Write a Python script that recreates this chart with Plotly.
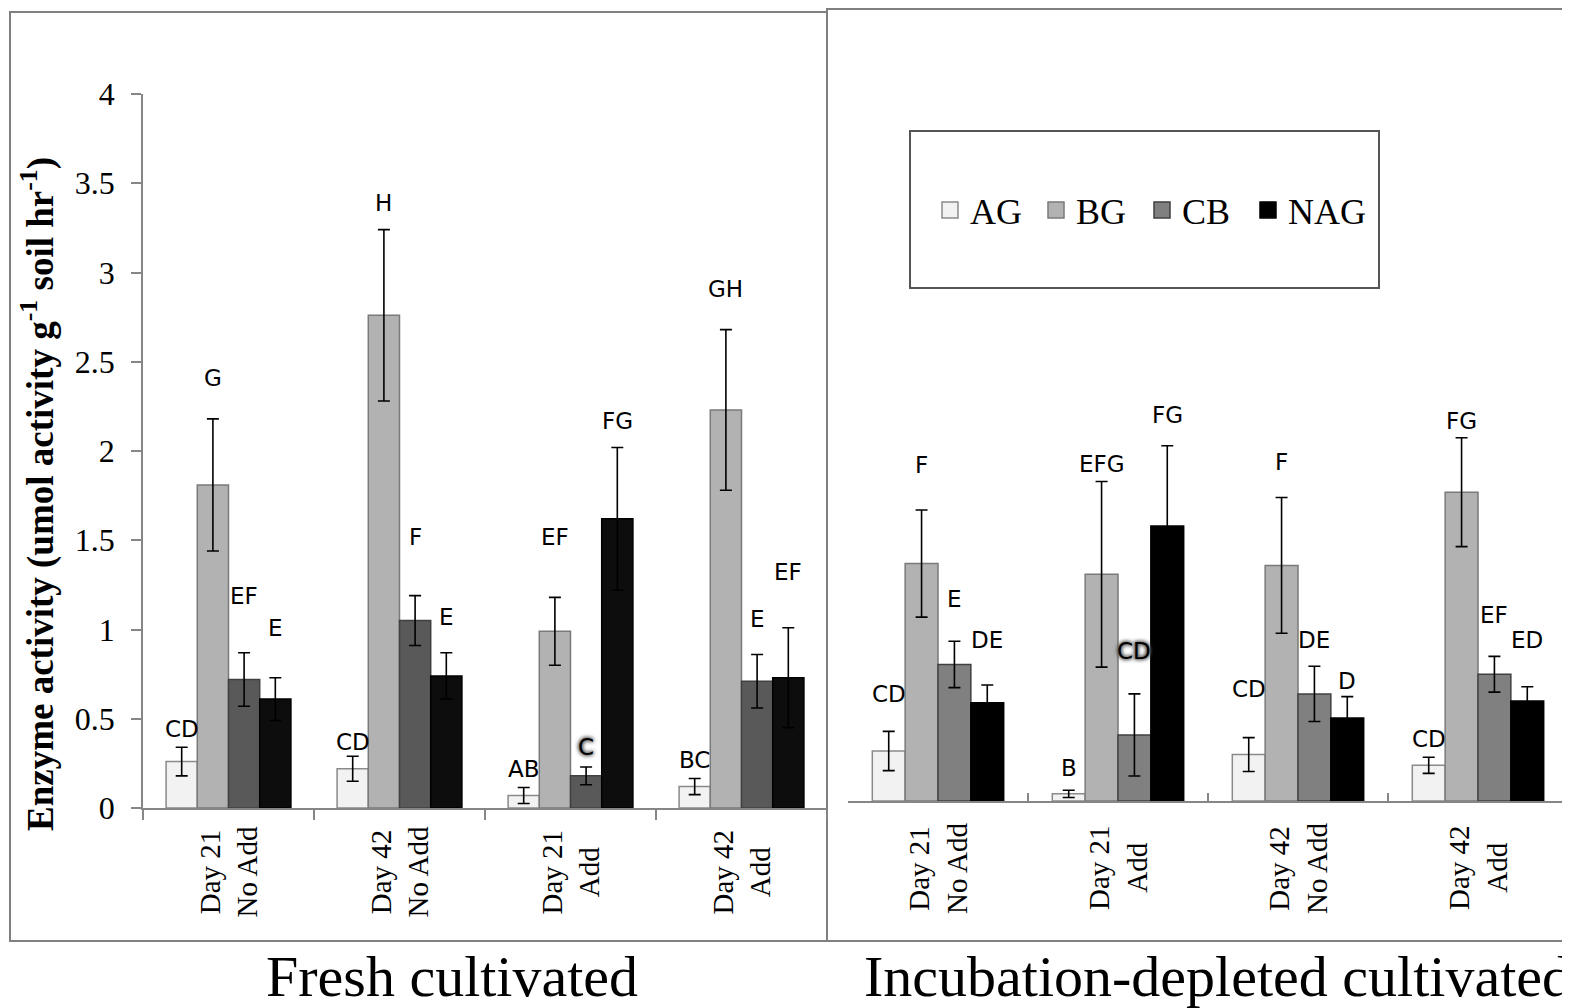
import plotly.graph_objects as go

# page is shown with the default 8px body margin, so the figure is sized to fit
OFF = 8
W, H = 1562, 1000

enzymes = ["AG", "BG", "CB", "NAG"]

# Fresh cultivated (left panel)
fresh_day = ["Day 21", "Day 42", "Day 21", "Day 42"]
fresh_trt = ["No Add", "No Add", "Add", "Add"]
fresh_vals = {
    "AG": [0.26, 0.22, 0.07, 0.12],
    "BG": [1.81, 2.76, 0.99, 2.23],
    "CB": [0.72, 1.05, 0.18, 0.71],
    "NAG": [0.61, 0.74, 1.62, 0.73],
}
fresh_err = {
    "AG": [0.08, 0.07, 0.045, 0.045],
    "BG": [0.37, 0.48, 0.19, 0.45],
    "CB": [0.15, 0.14, 0.05, 0.15],
    "NAG": [0.12, 0.13, 0.40, 0.28],
}
fresh_letters = {
    "AG": ["CD", "CD", "AB", "BC"],
    "BG": ["G", "H", "EF", "GH"],
    "CB": ["EF", "F", "C", "E"],
    "NAG": ["E", "E", "FG", "EF"],
}
fresh_letter_y = {
    "AG": [0.44, 0.37, 0.22, 0.27],
    "BG": [2.41, 3.39, 1.52, 2.91],
    "CB": [1.19, 1.52, 0.34, 1.06],
    "NAG": [1.01, 1.07, 2.17, 1.32],
}

# Incubation-depleted cultivated (right panel)
dep_day = ["Day 21", "Day 21", "Day 42", "Day 42"]
dep_trt = ["No Add", "Add", "No Add", "Add"]
dep_vals = {
    "AG": [0.28, 0.04, 0.26, 0.20],
    "BG": [1.33, 1.27, 1.32, 1.73],
    "CB": [0.765, 0.37, 0.60, 0.71],
    "NAG": [0.55, 1.54, 0.465, 0.56],
}
dep_err = {
    "AG": [0.11, 0.02, 0.095, 0.045],
    "BG": [0.30, 0.52, 0.38, 0.305],
    "CB": [0.13, 0.23, 0.155, 0.10],
    "NAG": [0.10, 0.45, 0.12, 0.08],
}
dep_letters = {
    "AG": ["CD", "B", "CD", "CD"],
    "BG": ["F", "EFG", "F", "FG"],
    "CB": ["E", "CD", "DE", "EF"],
    "NAG": ["DE", "FG", "D", "ED"],
}
dep_letter_y = {
    "AG": [0.60, 0.185, 0.63, 0.35],
    "BG": [1.88, 1.89, 1.90, 2.13],
    "CB": [1.13, 0.84, 0.90, 1.04],
    "NAG": [0.90, 2.16, 0.67, 0.90],
}
glow = [("fresh", "CB", 2), ("dep", "CB", 1)]

y_ticks = [0, 0.5, 1, 1.5, 2, 2.5, 3, 3.5, 4]

fresh_colors = {"AG": "#f2f2f2", "BG": "#b2b2b2", "CB": "#595959", "NAG": "#0d0d0d"}
dep_colors = {"AG": "#f2f2f2", "BG": "#b2b2b2", "CB": "#808080", "NAG": "#000000"}
line_colors = {"AG": "#8a8a8a", "BG": "#7a7a7a", "CB": "#404040", "NAG": "#000000"}

SERIF = "Liberation Serif"
SANS = "DejaVu Sans"

fresh_x = [f"{d} {t}" for d, t in zip(fresh_day, fresh_trt)]
dep_x = [f"{d} {t}" for d, t in zip(dep_day, dep_trt)]

fig = go.Figure()
for e in enzymes:
    fig.add_trace(go.Bar(
        x=fresh_x, y=fresh_vals[e], name=e, showlegend=False,
        marker=dict(color=fresh_colors[e], line=dict(color=line_colors[e], width=1.5)),
        error_y=dict(type="data", array=fresh_err[e], color="black", thickness=1.6, width=6),
        xaxis="x", yaxis="y",
    ))
for e in enzymes:
    fig.add_trace(go.Bar(
        x=dep_x, y=dep_vals[e], name=e, showlegend=False,
        marker=dict(color=dep_colors[e], line=dict(color=line_colors[e], width=1.5)),
        error_y=dict(type="data", array=dep_err[e], color="black", thickness=1.6, width=6),
        xaxis="x2", yaxis="y2",
    ))
# legend keys (square swatches like the original)
for e in enzymes:
    fig.add_trace(go.Scatter(
        x=[None], y=[None], mode="markers", name=e, showlegend=True,
        marker=dict(symbol="square", size=20, color=dep_colors[e],
                    line=dict(color=line_colors[e], width=1.5)),
        xaxis="x2", yaxis="y2",
    ))
# blank spacer entry so the last legend label is not clipped
fig.add_trace(go.Scatter(
    x=[None], y=[None], mode="markers", name=" ", showlegend=True,
    marker=dict(symbol="square", size=1, color="rgba(0,0,0,0)",
                line=dict(width=0, color="rgba(0,0,0,0)")),
    hoverinfo="skip", xaxis="x2", yaxis="y2",
))

bargap = 0.27
barw = (1 - bargap) / 4

def px(x):
    return (x - OFF) / W

def py(y):
    return (H - (y - OFF)) / H

annotations = []
for panel, letters, ly, xr, yr in [("fresh", fresh_letters, fresh_letter_y, "x", "y"),
                                   ("dep", dep_letters, dep_letter_y, "x2", "y2")]:
    for k, e in enumerate(enzymes):
        for i in range(4):
            is_glow = (panel, e, i) in glow
            font = dict(family=SANS, size=23, color="black")
            if is_glow:
                font.update(shadow="0px 0px 4px #555, 0px 0px 4px #555, 0px 0px 3px #777")
            annotations.append(dict(
                x=i + (k - 1.5) * barw, y=ly[e][i], xref=xr, yref=yr,
                text=letters[e][i], showarrow=False, font=font,
                xanchor="center", yanchor="middle",
            ))

# category labels (two centred lines, rotated)
for days, trts, xr, ycen in [(fresh_day, fresh_trt, "x", 872), (dep_day, dep_trt, "x2", 868)]:
    for i, (d, t) in enumerate(zip(days, trts)):
        annotations.append(dict(
            x=i, y=py(ycen), xref=xr, yref="paper", textangle=-90,
            text=f"{d}<br>{t}", align="center", showarrow=False,
            font=dict(family=SERIF, size=29, color="black"),
            xanchor="center", yanchor="middle",
        ))

annotations += [
    dict(x=px(38), y=py(494), xref="paper", yref="paper", textangle=-90,
         text="<b>Enzyme activity (umol activity g<sup>-1</sup> soil hr<sup>-1</sup>)</b>",
         showarrow=False, font=dict(family=SERIF, size=37, color="black"),
         xanchor="center", yanchor="middle"),
    dict(x=px(452), y=py(976), xref="paper", yref="paper", text="Fresh cultivated",
         showarrow=False, font=dict(family=SERIF, size=58, color="black"),
         xanchor="center", yanchor="middle"),
    dict(x=px(862), y=py(976), xref="paper", yref="paper", text="Incubation-depleted cultivated",
         showarrow=False, font=dict(family=SERIF, size=58, color="black"),
         xanchor="left", yanchor="middle"),
]

frame = dict(color="#808080", width=2)
shapes = [
    dict(type="rect", xref="paper", yref="paper", x0=px(10), x1=px(827), y0=py(941), y1=py(12), line=frame, layer="below"),
    dict(type="rect", xref="paper", yref="paper", x0=px(827), x1=px(1590), y0=py(941), y1=py(9), line=frame, layer="below"),
    dict(type="rect", xref="paper", yref="paper", x0=px(910), x1=px(1379), y0=py(288), y1=py(131),
         line=dict(color="#555555", width=2), fillcolor="white", layer="below"),
]

axis_grey = "#868686"
fig.update_layout(
    width=W, height=H, autosize=False,
    margin=dict(l=0, r=0, t=0, b=0, pad=0, autoexpand=False),
    paper_bgcolor="white", plot_bgcolor="rgba(0,0,0,0)",
    barmode="group", bargap=bargap, bargroupgap=0,
    xaxis=dict(domain=[px(143), px(827)], anchor="y", type="category", automargin=False,
               categoryorder="array", categoryarray=fresh_x,
               showline=True, linecolor=axis_grey, linewidth=1.5,
               ticks="outside", tickson="boundaries", ticklen=10, tickcolor=axis_grey, tickwidth=1.5,
               showticklabels=False, showgrid=False, zeroline=False),
    yaxis=dict(domain=[py(808), py(94)], anchor="x", range=[0, 4], automargin=False,
               tickvals=y_ticks, showline=True, linecolor=axis_grey, linewidth=1.5,
               ticks="outside", ticklen=10, tickcolor=axis_grey, tickwidth=1.5,
               ticklabelstandoff=10,
               tickfont=dict(family=SERIF, size=32, color="black"),
               showgrid=False, zeroline=False),
    xaxis2=dict(domain=[px(848), px(1568)], anchor="y2", type="category", automargin=False,
                categoryorder="array", categoryarray=dep_x,
                showline=True, linecolor=axis_grey, linewidth=1.5,
                ticks="inside", tickson="boundaries", ticklen=8, tickcolor=axis_grey, tickwidth=1.5,
                showticklabels=False, showgrid=False, zeroline=False),
    yaxis2=dict(domain=[py(801), py(87)], anchor="x2", range=[0, 4], automargin=False,
                visible=False, showgrid=False, zeroline=False),
    legend=dict(orientation="h", x=px(930), y=py(210), xanchor="left", yanchor="middle",
                font=dict(family=SERIF, size=36, color="black"),
                bgcolor="rgba(0,0,0,0)", borderwidth=0, entrywidth=61),
    annotations=annotations,
    shapes=shapes,
)

fig.write_html("out.html")
